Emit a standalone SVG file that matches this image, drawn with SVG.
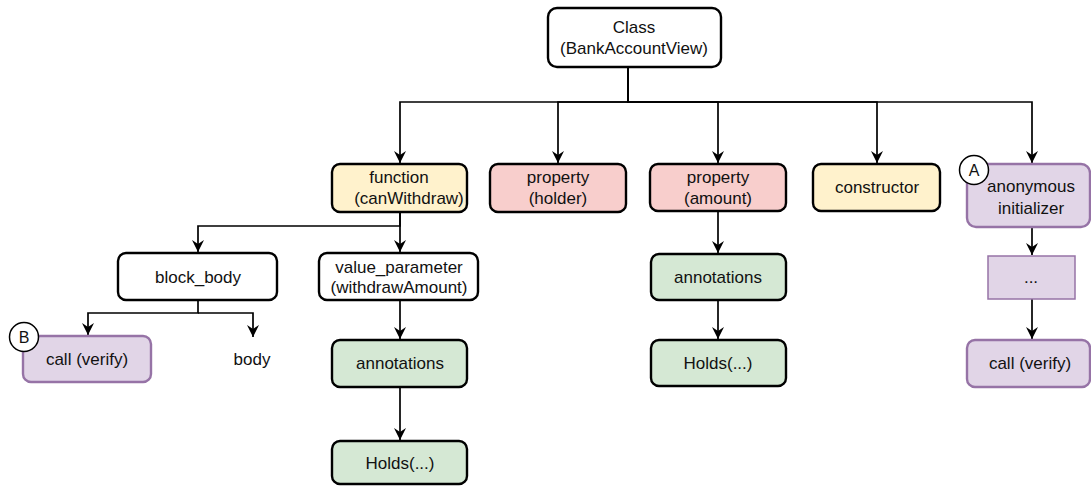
<svg xmlns="http://www.w3.org/2000/svg" width="1091" height="486" viewBox="0 0 1091 486">
  <style>
    text { font-family: "Liberation Sans", Arial, sans-serif; font-size: 17px; fill: #111; text-anchor: middle; }
    .box { stroke: #000; stroke-width: 2.4; }
    .plain { fill: #fff; }
    .yellow { fill: #fff2cc; }
    .red { fill: #f8cecc; }
    .green { fill: #d5e8d4; }
    .purple { fill: #e1d5e7; stroke: #9673a6; stroke-width: 2.4; }
    .purple-thin { fill: #e1d5e7; stroke: #9673a6; stroke-width: 1.5; }
    .edge { fill: none; stroke: #000; stroke-width: 1.7; marker-end: url(#arrow); }
    .badge { fill: #fff; stroke: #000; stroke-width: 1.5; }
    .badge-text { font-size: 16px; }
  </style>
  <defs>
    <marker id="arrow" viewBox="-13 -7 14 14" refX="0" refY="0" markerWidth="14" markerHeight="14" markerUnits="userSpaceOnUse" orient="auto">
      <path d="M0,0 L-12,-6 L-8,0 L-12,6 Z" fill="#000"/>
    </marker>
  </defs>

  <!-- connectors -->
  <g id="connectors">
    <path class="edge" d="M628,67 V102 H400 V163"/>
    <path class="edge" d="M628,67 V102 H558 V163"/>
    <path class="edge" d="M628,67 V102 H718 V163"/>
    <path class="edge" d="M628,67 V102 H877 V163"/>
    <path class="edge" d="M628,67 V102 H1032 V163"/>

    <path class="edge" d="M400,212 V226 H198 V252"/>
    <path class="edge" d="M400,212 V252"/>

    <path class="edge" d="M198,300 V313 H88 V335"/>
    <path class="edge" d="M198,313 H253 V337"/>

    <path class="edge" d="M400,300 V339"/>
    <path class="edge" d="M400,387 V440"/>

    <path class="edge" d="M718,211 V253"/>
    <path class="edge" d="M718,300 V339"/>

    <path class="edge" d="M1032,227 V255"/>
    <path class="edge" d="M1032,299 V339"/>
  </g>

  <!-- root -->
  <g id="class-node">
    <rect class="box plain" x="548" y="8" width="173" height="59" rx="9"/>
    <text x="634" y="33">Class</text>
    <text x="634" y="54">(BankAccountView)</text>
  </g>

  <!-- class members -->
  <g id="function-node">
    <rect class="box yellow" x="332" y="164" width="135" height="48" rx="8"/>
    <text x="399" y="183">function</text>
    <text x="409" y="204">(canWithdraw)</text>
  </g>
  <g id="property-holder">
    <rect class="box red" x="490" y="164" width="136" height="48" rx="8"/>
    <text x="558" y="183">property</text>
    <text x="558" y="204">(holder)</text>
  </g>
  <g id="property-amount">
    <rect class="box red" x="650" y="164" width="136" height="47" rx="8"/>
    <text x="718" y="183">property</text>
    <text x="718" y="204">(amount)</text>
  </g>
  <g id="constructor-node">
    <rect class="box yellow" x="813" y="164" width="127" height="47" rx="8"/>
    <text x="877" y="193">constructor</text>
  </g>
  <g id="anonymous-initializer">
    <rect class="purple" x="967" y="164" width="123" height="63" rx="9"/>
    <text x="1031" y="192">anonymous</text>
    <text x="1031" y="214">initializer</text>
  </g>
  <g id="badge-a">
    <circle class="badge" cx="974" cy="170" r="14.5"/>
    <text class="badge-text" x="974" y="176">A</text>
  </g>

  <!-- function subtree -->
  <g id="block-body">
    <rect class="box plain" x="118" y="253" width="159" height="47" rx="8"/>
    <text x="198" y="283">block_body</text>
  </g>
  <g id="value-parameter">
    <rect class="box plain" x="319" y="253" width="159" height="47" rx="8"/>
    <text x="399" y="273">value_parameter</text>
    <text x="399" y="293">(withdrawAmount)</text>
  </g>
  <g id="call-verify-left">
    <rect class="purple" x="23" y="336" width="128" height="46" rx="8"/>
    <text x="87" y="365">call (verify)</text>
  </g>
  <g id="badge-b">
    <circle class="badge" cx="24" cy="337" r="14.5"/>
    <text class="badge-text" x="24" y="343">B</text>
  </g>
  <g id="body-label">
    <text x="252" y="365">body</text>
  </g>
  <g id="annotations-param">
    <rect class="box green" x="332" y="340" width="135" height="47" rx="8"/>
    <text x="400" y="369">annotations</text>
  </g>
  <g id="holds-param">
    <rect class="box green" x="332" y="441" width="135" height="43" rx="8"/>
    <text x="400" y="469">Holds(...)</text>
  </g>

  <!-- property (amount) subtree -->
  <g id="annotations-amount">
    <rect class="box green" x="651" y="254" width="135" height="46" rx="8"/>
    <text x="718" y="283">annotations</text>
  </g>
  <g id="holds-amount">
    <rect class="box green" x="651" y="340" width="135" height="46" rx="8"/>
    <text x="718" y="369">Holds(...)</text>
  </g>

  <!-- anonymous initializer subtree -->
  <g id="ellipsis-node">
    <rect class="purple-thin" x="988" y="256" width="87" height="43"/>
    <text x="1031" y="283">...</text>
  </g>
  <g id="call-verify-right">
    <rect class="purple" x="967" y="340" width="123" height="47" rx="8"/>
    <text x="1030" y="369">call (verify)</text>
  </g>
</svg>
